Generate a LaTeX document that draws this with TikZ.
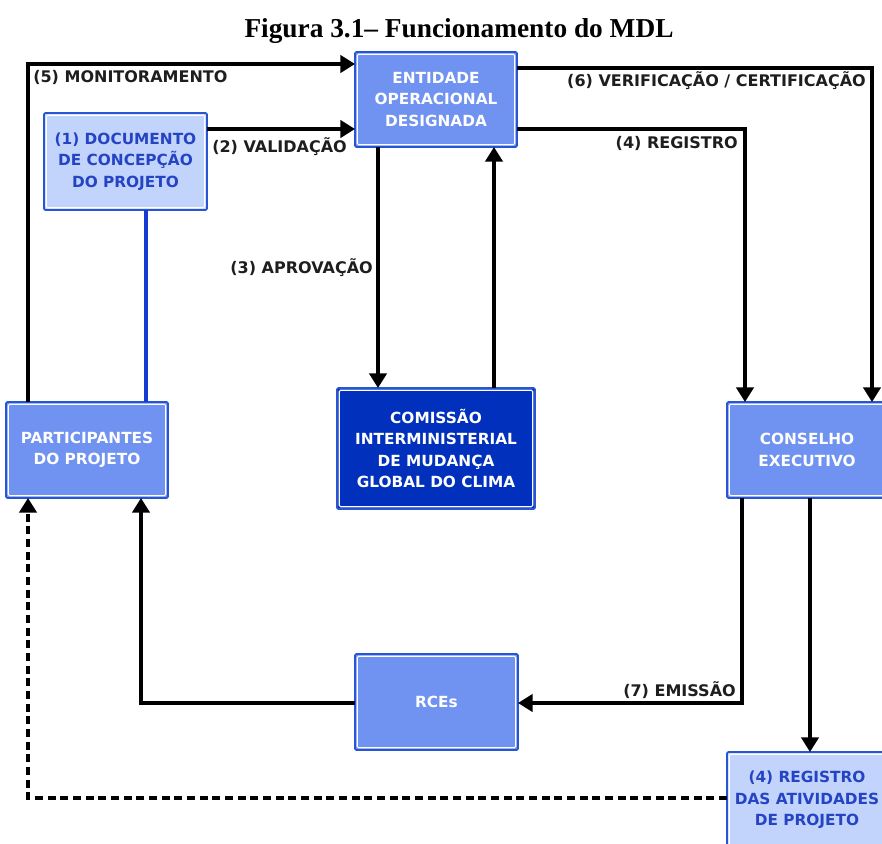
\documentclass[tikz,border=0pt]{standalone}
\usepackage{fontspec}
\usepackage{tikz}
\setmainfont{Liberation Serif}
\newfontfamily\sansdv{DejaVu Sans}
\usetikzlibrary{arrows.meta}

\definecolor{boxline}{RGB}{40,84,214}
\definecolor{midfill}{RGB}{112,146,240}
\definecolor{darkfill}{RGB}{0,48,188}
\definecolor{lightfill}{RGB}{194,212,252}
\definecolor{lighttext}{RGB}{36,68,196}
\definecolor{linkblue}{RGB}{20,60,210}
\definecolor{lbltext}{RGB}{30,30,30}

\newcommand{\boxfont}{\sansdv\bfseries\fontsize{11.5}{16}\selectfont}

\begin{document}
\begin{tikzpicture}[x=0.75pt,y=-0.75pt,
	box/.style={rectangle, draw=boxline, line width=1.2pt, rounded corners=1pt,
		outer sep=0pt, inner sep=0pt, align=center, font=\boxfont,
		path picture={\draw[white, line width=0.9pt]
			([shift={(1.7pt,-1.7pt)}]path picture bounding box.north west) rectangle
			([shift={(-1.7pt,1.7pt)}]path picture bounding box.south east);}},
	midbox/.style={box, fill=midfill, text=white},
	darkbox/.style={box, fill=darkfill, text=white},
	lightbox/.style={box, fill=lightfill, text=lighttext},
	link/.style={line width=2.5pt, -{Triangle[width=13pt,length=11pt]}},
	lbl/.style={font=\sansdv\bfseries\fontsize{12}{14}\selectfont, text=lbltext, inner sep=0pt}]
	\useasboundingbox (0,0) rectangle (882,843);
	\clip (0,0) rectangle (882,843);

	\node[anchor=base, font=\bfseries\fontsize{20.5}{24}\selectfont] (title) at (459,37) {Figura 3.1-- Funcionamento do MDL};

	\node[midbox, minimum width=121.5pt, minimum height=71.25pt] (eod) at (436,99.5) {ENTIDADE\\OPERACIONAL\\DESIGNADA};
	\node[lightbox, minimum width=122.25pt, minimum height=72.75pt] (dcp) at (125.5,161.5) {(1) DOCUMENTO\\DE CONCEPÇÃO\\DO PROJETO};
	\node[midbox, minimum width=121.5pt, minimum height=72pt] (part) at (87,450) {PARTICIPANTES\\DO PROJETO};
	\node[darkbox, minimum width=148.5pt, minimum height=90.75pt] (cimgc) at (436,448.5) {COMISSÃO\\INTERMINISTERIAL\\DE MUDANÇA\\GLOBAL DO CLIMA};
	\node[midbox, minimum width=120pt, minimum height=72pt] (ce) at (807,450) {CONSELHO\\EXECUTIVO};
	\node[midbox, minimum width=122.25pt, minimum height=72pt] (rce) at (436.5,702) {RCEs};
	\node[lightbox, minimum width=120pt, minimum height=72pt] (reg) at (807,800) {(4) REGISTRO\\DAS ATIVIDADES\\DE PROJETO};

	\draw[link] (part.north -| 28,0) |- (eod.west |- 0,64);
	\node[lbl, anchor=west] (lmon) at (33,77) {(5) MONITORAMENTO};
	\draw[link] (dcp.east |- 0,129) -- (eod.west |- 0,129);
	\node[lbl, anchor=west] (lval) at (212,147) {(2) VALIDAÇÃO};
	\draw[linkblue, line width=2.5pt] (dcp.south -| 146,0) -- (part.north -| 146,0);
	\draw[link] (eod.south -| 378,0) -- (cimgc.north -| 378,0);
	\node[lbl, anchor=east] (lapr) at (373,268) {(3) APROVAÇÃO};
	\draw[link] (cimgc.north -| 494,0) -- (eod.south -| 494,0);
	\draw[link] (eod.east |- 0,68) -| (ce.north -| 872,0);
	\node[lbl, anchor=east] (lver) at (866,81) {(6) VERIFICAÇÃO / CERTIFICAÇÃO};
	\draw[link] (eod.east |- 0,129) -| (ce.north -| 745,0);
	\node[lbl, anchor=east] (lreg) at (738,143) {(4) REGISTRO};
	\draw[link] (ce.south -| 742,0) |- (rce.east |- 0,703);
	\node[lbl, anchor=east] (lemi) at (736,690) {(7) EMISSÃO};
	\draw[link] (ce.south -| 810,0) -- (reg.north -| 810,0);
	\draw[link] (rce.west |- 0,703) -| (part.south -| 141,0);
	\draw[link, dash pattern=on 6pt off 3.5pt] (reg.west |- 0,798) -| (part.south -| 28,0);
\end{tikzpicture}
\end{document}
